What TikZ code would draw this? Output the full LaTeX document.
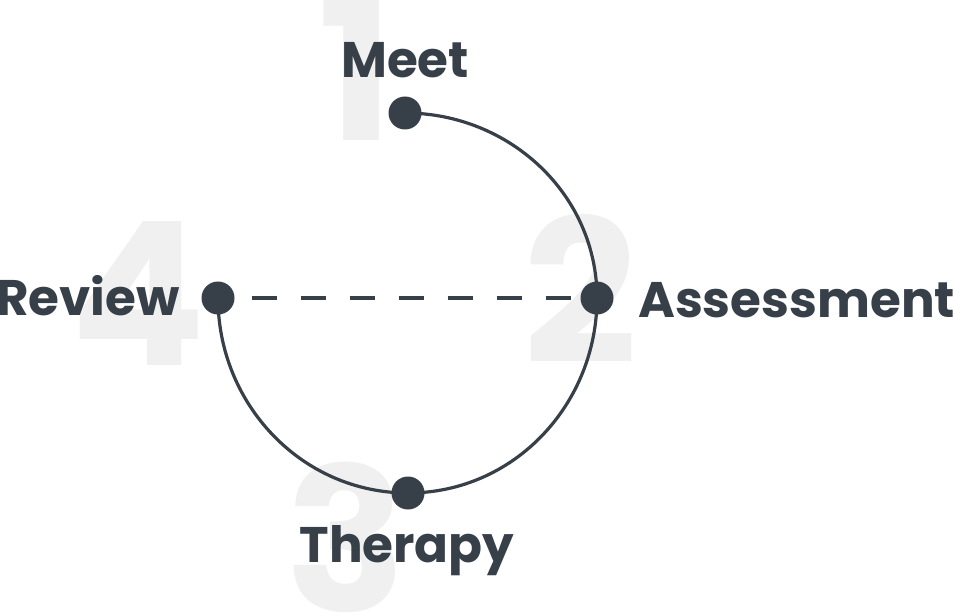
\documentclass[tikz,border=0pt]{standalone}
\usepackage{fontspec}
\setmainfont{Poppins}[BoldFont={* Bold}]
\definecolor{ink}{HTML}{373F48}
\definecolor{ghost}{HTML}{F0F0F0}
\tikzset{
  dot/.style={circle,fill=ink,minimum size=33pt,inner sep=0pt},
  lbl/.style={inner sep=0pt,text=ink,font=\fontsize{50}{60}\selectfont\bfseries},
  big/.style={inner sep=0pt,text=ghost,font=\fontsize{200}{220}\selectfont\bfseries,anchor=base},
  ring/.style={draw=ink,line width=3.2pt},
  dashline/.style={draw=ink,line width=3.6pt,dash pattern=on 25pt off 24pt,dash phase=15.3pt}
}
\begin{document}
\begin{tikzpicture}[x=1pt,y=-1pt]
\useasboundingbox (0,0) rectangle (953,615);
% ghost numbers
\node[big] (n1) at (356,141) {1};
\node[big] (n2) at (581,363) {2};
\node[big] (n3) at (346,611) {3};
\node[big] (n4) at (138,365) {4};
% dots
\coordinate (pm) at (405,113);
\coordinate (pa) at (597,298);
\coordinate (pt) at (408,493);
\coordinate (pr) at (218,298);
% ring
\draw[ring] (pm) to[out=0,in=90] (pa);
\draw[ring] (pa) to[out=-90,in=0] (pt);
\draw[ring] (pt) to[out=180,in=-90] (pr);
\draw[dashline] (pr) -- (pa);
\node[dot] (dm) at (pm) {};
\node[dot] (da) at (pa) {};
\node[dot] (dt) at (pt) {};
\node[dot] (dr) at (pr) {};
% labels
\node[lbl,anchor=base] (lm) at (405,78) {Meet};
\node[lbl,anchor=base west] (la) at (638,317) {Assessment};
\node[lbl,anchor=base] (lt) at (407,562) {Therapy};
\node[lbl,anchor=base east] (lr) at (180,315) {Review};
\end{tikzpicture}
\end{document}
